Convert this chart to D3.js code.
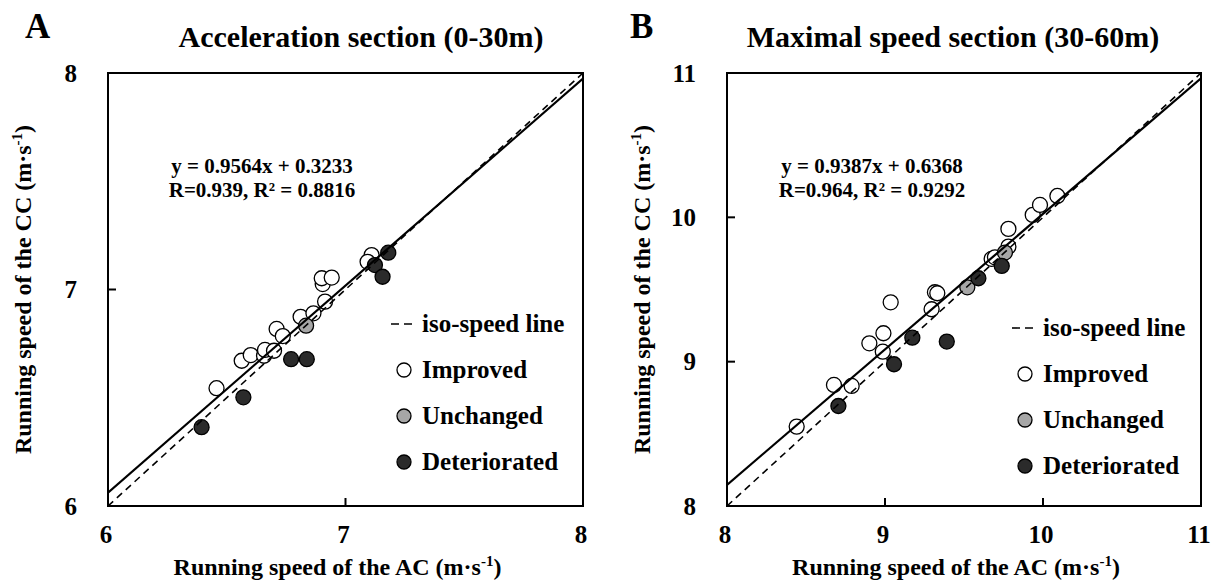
<!DOCTYPE html>
<html><head><meta charset="utf-8">
<script src="https://cdn.jsdelivr.net/npm/d3@7"></script>
<style>
body{margin:0;background:#fff}
svg{display:block}
text{font-family:"Liberation Serif","Times New Roman",serif;font-weight:bold;fill:#000}
</style>
</head><body>
<svg id="c" width="1212" height="582"></svg>
<script>
// ---------- DATA ----------
const panelLetters = ["A", "B"];
const panelTitles = ["Acceleration section (0-30m)", "Maximal speed section (30-60m)"];
const domainA = [6, 8];
const domainB = [8, 11];
const ticksA = [6, 7, 8];
const ticksB = [8, 9, 10, 11];
const equationA = ["y = 0.9564x + 0.3233", "R=0.939, R\u00B2 = 0.8816"];
const equationB = ["y = 0.9387x + 0.6368", "R=0.964, R\u00B2 = 0.9292"];
const fitA = [0.9564, 0.3233]; // slope, intercept
const fitB = [0.9387, 0.6368];
const legendLabels = ["iso-speed line", "Improved", "Unchanged", "Deteriorated"];
const groupNames = ["Improved", "Unchanged", "Deteriorated"];
const groupFills = ["#ffffff", "#a6a6a6", "#2b2b2b"];
const xLabel = "Running speed of the AC (m\u00B7s";
const yLabel = "Running speed of the CC (m\u00B7s";

// Panel A (0-30 m): AC speed, CC speed
const improvedA_AC = [6.457, 6.563, 6.601, 6.657, 6.661, 6.699, 6.710, 6.736, 6.811, 6.865, 6.914, 6.904, 6.900, 6.942, 7.110, 7.093];
const improvedA_CC = [6.544, 6.671, 6.697, 6.694, 6.721, 6.717, 6.818, 6.785, 6.874, 6.890, 6.944, 7.025, 7.052, 7.055, 7.159, 7.128];
const unchangedA_AC = [6.834];
const unchangedA_CC = [6.833];
const deterioratedA_AC = [6.394, 6.570, 6.771, 6.837, 7.124, 7.180, 7.156];
const deterioratedA_CC = [6.364, 6.502, 6.678, 6.678, 7.113, 7.170, 7.059];

// Panel B (30-60 m)
const improvedB_AC = [8.441, 8.677, 8.789, 8.901, 8.990, 8.986, 9.036, 9.295, 9.316, 9.331, 9.675, 9.696, 9.781, 9.781, 9.935, 9.981, 10.091];
const improvedB_CC = [8.550, 8.839, 8.832, 9.127, 9.197, 9.069, 9.411, 9.363, 9.481, 9.474, 9.712, 9.723, 9.797, 9.920, 10.017, 10.086, 10.148];
const unchangedB_AC = [9.521, 9.759];
const unchangedB_CC = [9.515, 9.756];
const deterioratedB_AC = [8.705, 9.057, 9.173, 9.391, 9.591, 9.739];
const deterioratedB_CC = [8.693, 8.982, 9.166, 9.139, 9.578, 9.663];

// ---------- LAYOUT ----------
const svg = d3.select("#c");
const panels = [
  {letter: panelLetters[0], title: panelTitles[0], domain: domainA, ticks: ticksA, eq: equationA, fit: fitA,
   groups: [[improvedA_AC, improvedA_CC], [unchangedA_AC, unchangedA_CC], [deterioratedA_AC, deterioratedA_CC]],
   box: {x0: 108, x1: 583, y0: 73, y1: 506}, letterX: 25, titleX: 361, eqX: 262, legX: 391, legY: 324},
  {letter: panelLetters[1], title: panelTitles[1], domain: domainB, ticks: ticksB, eq: equationB, fit: fitB,
   groups: [[improvedB_AC, improvedB_CC], [unchangedB_AC, unchangedB_CC], [deterioratedB_AC, deterioratedB_CC]],
   box: {x0: 727, x1: 1201, y0: 73, y1: 506}, letterX: 630, titleX: 953, eqX: 872, legX: 1012, legY: 328}
];

panels.forEach((p, pi) => {
  const b = p.box;
  const x = d3.scaleLinear().domain(p.domain).range([b.x0, b.x1]);
  const y = d3.scaleLinear().domain(p.domain).range([b.y1, b.y0]);
  const g = svg.append("g");

  // clip
  const cid = "clip" + pi;
  svg.append("defs").append("clipPath").attr("id", cid)
    .append("rect").attr("x", b.x0).attr("y", b.y0).attr("width", b.x1 - b.x0).attr("height", b.y1 - b.y0);

  // points
  const pts = g.append("g");
  p.groups.forEach((arr, gi) => {
    const data = arr[0].map((v, i) => [v, arr[1][i]]);
    pts.selectAll(null).data(data).enter().append("circle")
      .attr("cx", d => x(d[0])).attr("cy", d => y(d[1])).attr("r", 7.5)
      .attr("fill", groupFills[gi]).attr("stroke", "#000").attr("stroke-width", 1.3);
  });

  // lines
  const lg = g.append("g").attr("clip-path", `url(#${cid})`);
  const d0 = p.domain[0], d1 = p.domain[1];
  lg.append("line").attr("x1", x(d0)).attr("y1", y(d0)).attr("x2", x(d1)).attr("y2", y(d1))
    .attr("stroke", "#000").attr("stroke-width", 1.6).attr("stroke-dasharray", "7,5");
  lg.append("line").attr("x1", x(d0)).attr("y1", y(p.fit[0] * d0 + p.fit[1]))
    .attr("x2", x(d1)).attr("y2", y(p.fit[0] * d1 + p.fit[1]))
    .attr("stroke", "#000").attr("stroke-width", 2.2);

  // frame
  g.append("rect").attr("x", b.x0).attr("y", b.y0).attr("width", b.x1 - b.x0).attr("height", b.y1 - b.y0)
    .attr("fill", "none").attr("stroke", "#000").attr("stroke-width", 2);

  // ticks (inward)
  p.ticks.forEach(t => {
    g.append("line").attr("x1", x(t)).attr("x2", x(t)).attr("y1", b.y1).attr("y2", b.y1 - 8)
      .attr("stroke", "#000").attr("stroke-width", 2);
    g.append("line").attr("x1", b.x0).attr("x2", b.x0 + 8).attr("y1", y(t)).attr("y2", y(t))
      .attr("stroke", "#000").attr("stroke-width", 2);
    g.append("text").attr("x", x(t) - 2).attr("y", b.y1 + 37).attr("text-anchor", "middle")
      .attr("font-size", 25).text(t);
    g.append("text").attr("x", b.x0 - 31).attr("y", y(t) + 8.5).attr("text-anchor", "end")
      .attr("font-size", 25).text(t);
  });

  // axis labels
  const cx = (b.x0 + b.x1) / 2 - 8, cy = (b.y0 + b.y1) / 2;
  const xl = g.append("text").attr("x", cx).attr("y", 575).attr("text-anchor", "middle").attr("font-size", 24);
  xl.append("tspan").text(xLabel);
  xl.append("tspan").attr("dy", -9).attr("font-size", 15).text("-1");
  xl.append("tspan").attr("dy", 9).text(")");
  const yl = g.append("text").attr("transform", `translate(${b.x0 - 77},${cy}) rotate(-90)`)
    .attr("text-anchor", "middle").attr("font-size", 24);
  yl.append("tspan").text(yLabel);
  yl.append("tspan").attr("dy", -9).attr("font-size", 15).text("-1");
  yl.append("tspan").attr("dy", 9).text(")");

  // panel letter and title
  g.append("text").attr("x", p.letterX).attr("y", 38).attr("font-size", 35).text(p.letter);
  g.append("text").attr("x", p.titleX).attr("y", 47).attr("text-anchor", "middle").attr("font-size", 30).text(p.title);

  // equation
  p.eq.forEach((s, i) => {
    g.append("text").attr("x", p.eqX).attr("y", 173 + i * 24).attr("text-anchor", "middle")
      .attr("font-size", 21).text(s);
  });

  // legend
  const lx = p.legX, ly = p.legY;
  g.append("line").attr("x1", lx).attr("x2", lx + 26).attr("y1", ly).attr("y2", ly)
    .attr("stroke", "#000").attr("stroke-width", 1.6).attr("stroke-dasharray", "8,5");
  g.append("text").attr("x", lx + 31).attr("y", ly + 8).attr("font-size", 25).text(legendLabels[0]);
  groupNames.forEach((nm, i) => {
    const yy = ly + 46 * (i + 1);
    g.append("circle").attr("cx", lx + 13).attr("cy", yy).attr("r", 7)
      .attr("fill", groupFills[i]).attr("stroke", "#000").attr("stroke-width", 1.3);
    g.append("text").attr("x", lx + 31).attr("y", yy + 8).attr("font-size", 25).text(legendLabels[i + 1]);
  });
});
</script>
</body></html>
